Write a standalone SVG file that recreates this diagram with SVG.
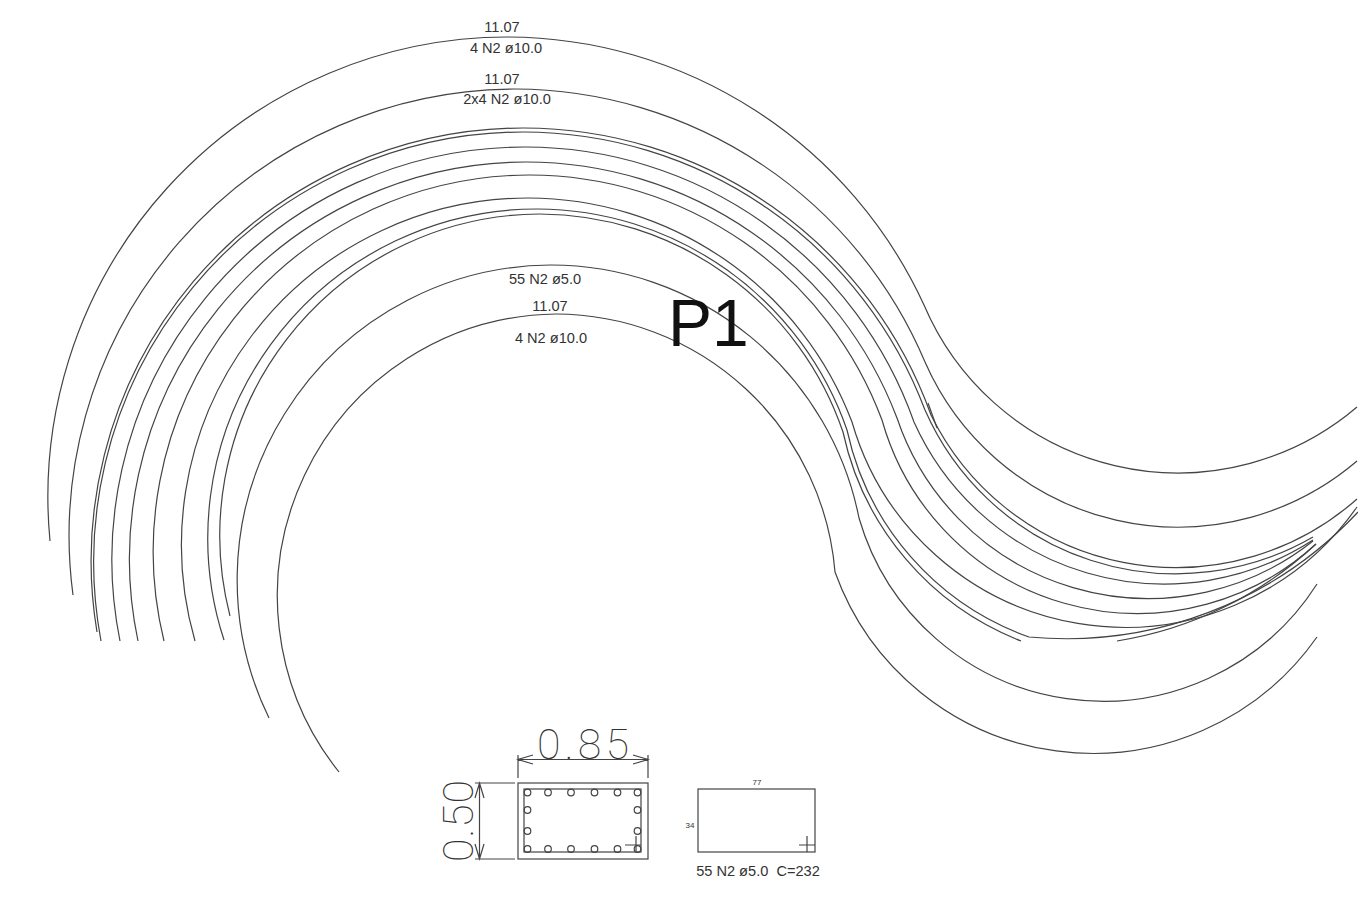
<svg xmlns="http://www.w3.org/2000/svg" width="1358" height="903" viewBox="0 0 1358 903">
<style>
.l{fill:none;stroke:#444;stroke-width:1.2}
.t{font-family:"Liberation Sans",Arial,sans-serif;font-size:14.6px;fill:#333;text-anchor:middle;white-space:pre}
.s{font-size:8px}
.d{font-family:"Roboto","Inter",sans-serif;font-weight:100;font-size:43px;fill:#333}
</style>
<rect width="1358" height="903" fill="#fff"/>
<g id="bars">
<path class="l" d="M50,541A460,460 0 0 1 507,37A460,460 0 0 1 924,305A276,276 0 0 0 1357,407"/>
<path class="l" d="M73,595A447,447 0 0 1 515,89A447,447 0 0 1 925,362A276,276 0 0 0 1357,461"/>
<path class="l" d="M97,632A433,433 0 0 1 523,128A433,433 0 0 1 931,415A273,273 0 0 0 1357,499"/>
<path class="l" d="M101,641A430,430 0 0 1 523,132A430,430 0 0 1 925,410A274,274 0 0 0 1313,537"/>
<path class="l" d="M120,641A412.6,412.6 0 0 1 525,147A412.6,412.6 0 0 1 914,422A274,274 0 0 0 1313,540"/>
<path class="l" d="M138,641A397,397 0 0 1 526,162A397,397 0 0 1 897,418A265,265 0 0 0 1313,541"/>
<path class="l" d="M164,641A376.5,376.5 0 0 1 529.5,175A376.5,376.5 0 0 1 882,420A265,265 0 0 0 1316,544"/>
<path class="l" d="M195,641A347,347 0 0 1 528,198A347,347 0 0 1 852,422A284,284 0 0 0 1357,507"/>
<path class="l" d="M224,640A329,329 0 0 1 537,209A329,329 0 0 1 847,430A283,283 0 0 0 1029,637A400,400 0 0 0 1358,512"/>
<path class="l" d="M230,616A321.6,321.6 0 0 1 539.6,214A321.6,321.6 0 0 1 843,432A290,290 0 0 0 1021,641"/>
<path class="l" d="M1117,641A380,380 0 0 0 1316,544"/>
<path class="l" d="M269,718A315,315 0 0 1 550.6,265A314.6,314.6 0 0 1 859,518A254,254 0 0 0 1317,584"/>
<path class="l" d="M339,772A282,282 0 0 1 556,314A281,281 0 0 1 835,572A274,274 0 0 0 1317,637"/>
<path class="l" d="M928,403L937,428"/>
</g>
<g id="labels">
<text class="t" x="502" y="32">11.07</text>
<text class="t" x="506" y="53">4 N2 ø10.0</text>
<text class="t" x="502" y="84">11.07</text>
<text class="t" x="507" y="104">2x4 N2 ø10.0</text>
<text class="t" x="545" y="284">55 N2 ø5.0</text>
<text class="t" x="550" y="311">11.07</text>
<text class="t" x="551" y="343">4 N2 ø10.0</text>
<text x="668" y="346" font-family="Liberation Sans, Arial, sans-serif" font-size="66" fill="#111">P1</text>
</g>
<g id="section">
<rect class="l" x="518" y="783" width="130" height="76"/>
<rect class="l" x="524" y="789" width="117" height="63"/>
<g class="l">
<circle cx="527.5" cy="792.5" r="3.3"/><circle cx="548" cy="792.5" r="3.3"/><circle cx="571" cy="792.5" r="3.3"/><circle cx="594.5" cy="792.5" r="3.3"/><circle cx="617.5" cy="792.5" r="3.3"/><circle cx="637.5" cy="792.5" r="3.3"/>
<circle cx="527.5" cy="849" r="3.3"/><circle cx="548" cy="849" r="3.3"/><circle cx="571" cy="849" r="3.3"/><circle cx="594.5" cy="849" r="3.3"/><circle cx="617.5" cy="849" r="3.3"/><circle cx="637.5" cy="849" r="3.3"/>
<circle cx="527.5" cy="810" r="3.3"/><circle cx="527.5" cy="831" r="3.3"/><circle cx="637.5" cy="810" r="3.3"/><circle cx="637.5" cy="831" r="3.3"/>
<path d="M625,845H641M636,836V852"/>
<path d="M518,755V778M648,755V778M518,759.5H648M533,755L518,759.5L533,764M633,755L648,759.5L633,764"/>
<path d="M475,783H515M475,859H515M479.5,783V859M475,798L479.5,783L484,798M475,844L479.5,859L484,844"/>
</g>
<text class="d" x="537" y="759" textLength="92">0.85</text>
<text class="d" transform="translate(473,862) rotate(-90)" textLength="82">0.50</text>
</g>
<g id="stirrup">
<rect class="l" x="698" y="789" width="117" height="63"/>
<path class="l" d="M799,845H815M807,836V852"/>
<text class="t s" x="757" y="785">77</text>
<text class="t s" x="690" y="828">34</text>
<text class="t" x="758" y="876">55 N2 ø5.0  C=232</text>
</g>
</svg>
